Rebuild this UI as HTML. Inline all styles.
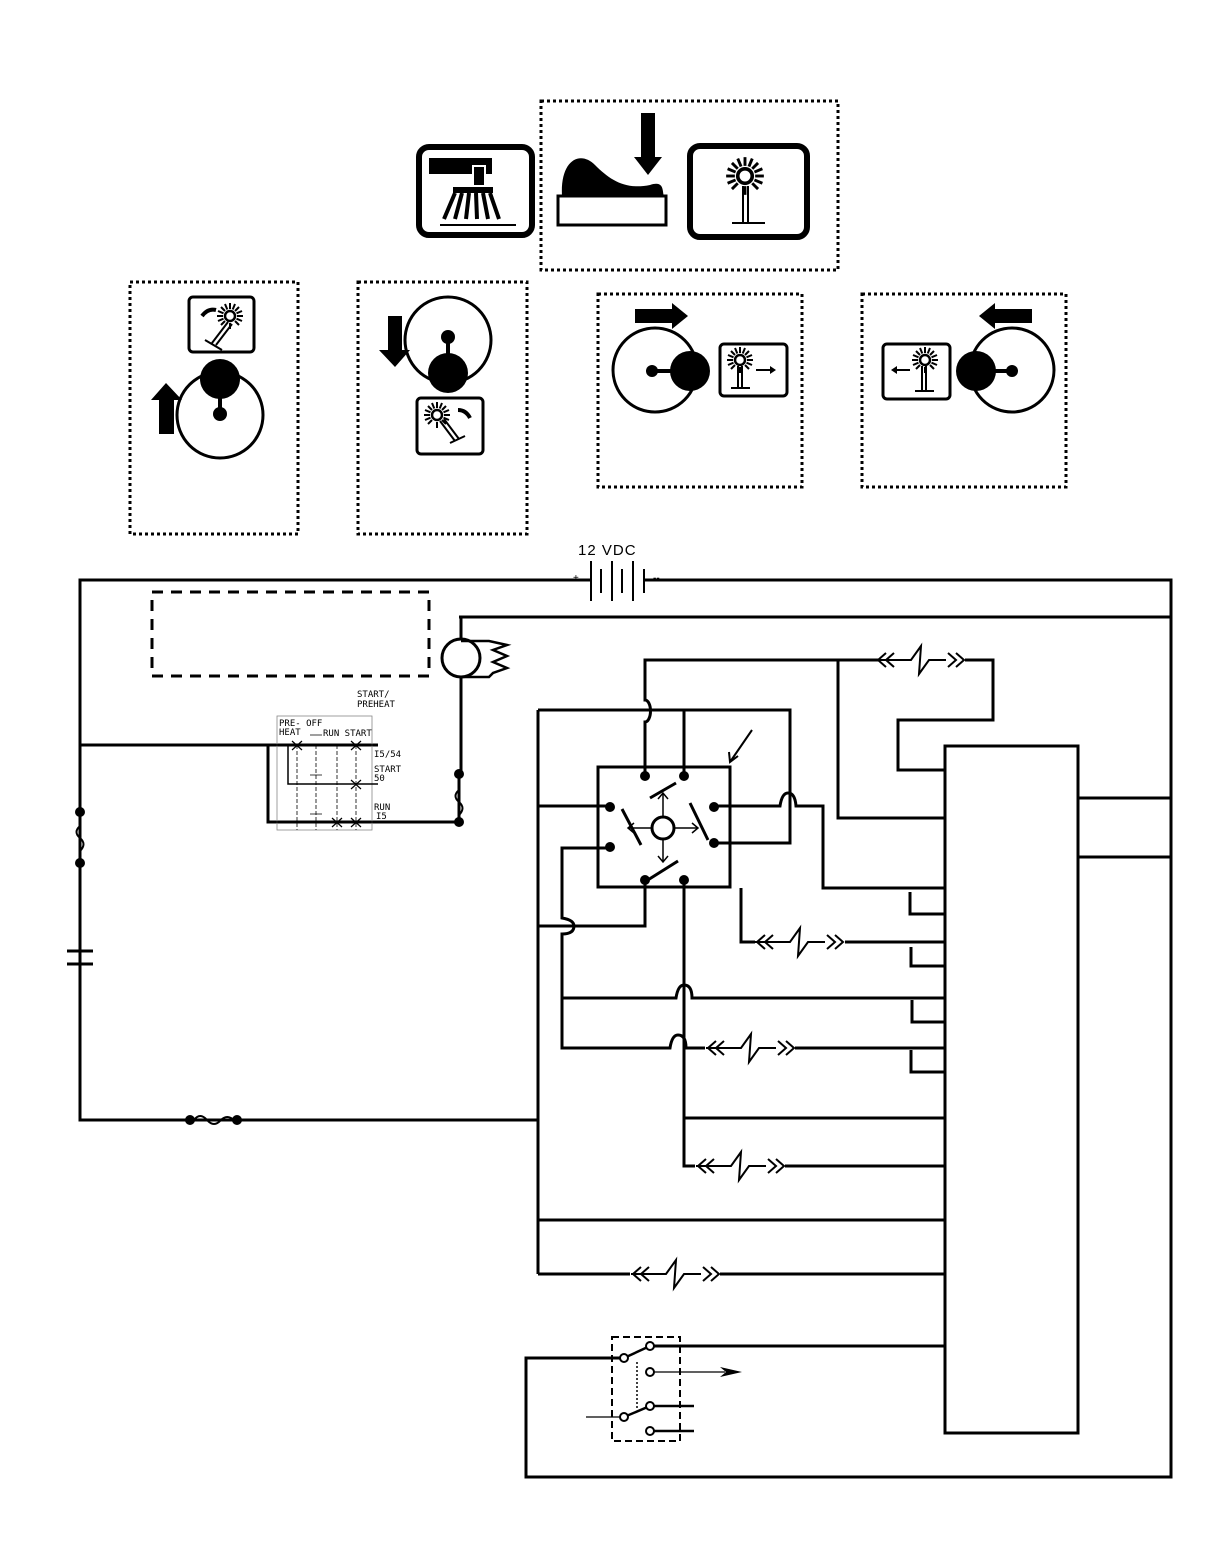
<!DOCTYPE html>
<html><head><meta charset="utf-8"><style>
body{margin:0;background:#fff}
svg{display:block}
text{font-family:"Liberation Sans",sans-serif}
.t{font-family:"DejaVu Sans Mono","Liberation Mono",monospace;font-size:9px}
</style></head><body>
<svg width="1222" height="1564" viewBox="0 0 1222 1564" xmlns="http://www.w3.org/2000/svg">
<defs>
<g id="sun">
<circle r="5" fill="none" stroke="#000" stroke-width="2.5"/>
<g stroke="#000" stroke-width="2">
<line x1="0" y1="-7" x2="0" y2="-13"/><line x1="0" y1="7" x2="0" y2="13"/><line x1="-7" y1="0" x2="-13" y2="0"/><line x1="7" y1="0" x2="13" y2="0"/>
<line x1="5" y1="5" x2="9" y2="9"/><line x1="-5" y1="-5" x2="-9" y2="-9"/><line x1="5" y1="-5" x2="9" y2="-9"/><line x1="-5" y1="5" x2="-9" y2="9"/>
<line x1="2.7" y1="-6.5" x2="5" y2="-12"/><line x1="-2.7" y1="-6.5" x2="-5" y2="-12"/><line x1="6.5" y1="-2.7" x2="12" y2="-5"/><line x1="6.5" y1="2.7" x2="12" y2="5"/><line x1="-6.5" y1="-2.7" x2="-12" y2="-5"/><line x1="-6.5" y1="2.7" x2="-12" y2="5"/>
</g></g>
<g id="fz" fill="none" stroke="#000" stroke-width="2">
<path d="M10,-7 L2,0 L10,7 M18,-7 L10,0 L18,7"/>
<path d="M0,0 L35,0 L45,-14 L43,14 L53,0 L70,0"/>
<path d="M72,-7 L80,0 L72,7 M80,-7 L88,0 L80,7"/>
</g>
</defs>

<!-- top icons -->
<rect x="541" y="101" width="297" height="169" fill="none" stroke="#000" stroke-width="3" stroke-dasharray="3,3"/>
<rect x="419" y="147" width="113" height="88" rx="10" fill="none" stroke="#000" stroke-width="6"/>
<rect x="429" y="158" width="63" height="16" fill="#000"/>
<rect x="473" y="166" width="12" height="20" fill="#000" stroke="#fff" stroke-width="2"/>
<rect x="453" y="187" width="40" height="6" fill="#000"/>
<path d="M455,193 L444,219 M462,193 L455,219 M469,193 L466,219 M476,193 L477,219 M483,193 L488,219 M490,193 L499,219" stroke="#000" stroke-width="4"/>
<line x1="440" y1="225" x2="516" y2="225" stroke="#000" stroke-width="2"/>
<path d="M562,196 C560,160 580,150 595,165 C610,180 625,190 650,185 C665,180 662,192 664,196 Z" fill="#000"/>
<rect x="558" y="196" width="108" height="29" fill="#fff" stroke="#000" stroke-width="3"/>
<rect x="641" y="113" width="14" height="45" fill="#000"/>
<path d="M634,157 L662,157 L648,175 Z" fill="#000"/>
<rect x="690" y="146" width="117" height="91" rx="10" fill="none" stroke="#000" stroke-width="6"/>
<use href="#sun" transform="translate(745,176) scale(1.45)"/>
<path d="M743,186 L743,222 M748,186 L748,222 M732,223 L765,223" stroke="#000" stroke-width="2"/>

<!-- four dotted boxes -->
<g fill="none" stroke="#000" stroke-width="3" stroke-dasharray="3,3">
<rect x="130" y="282" width="168" height="252"/>
<rect x="358" y="282" width="169" height="252"/>
<rect x="598" y="294" width="204" height="193"/>
<rect x="862" y="294" width="204" height="193"/>
</g>
<!-- box1 -->
<rect x="189" y="297" width="65" height="55" rx="4" fill="none" stroke="#000" stroke-width="3"/>
<use href="#sun" x="230" y="316"/>
<path d="M228,322 L212,343 M232,324 L216,345 M205,340 L222,350" stroke="#000" stroke-width="2"/>
<path d="M202,316 Q208,308 216,310" stroke="#000" stroke-width="4" fill="none"/>
<circle cx="220" cy="415" r="43" fill="none" stroke="#000" stroke-width="3"/>
<circle cx="220" cy="379" r="20" fill="#000"/>
<line x1="220" y1="390" x2="220" y2="412" stroke="#000" stroke-width="4"/>
<circle cx="220" cy="414" r="7" fill="#000"/>
<rect x="159" y="398" width="15" height="36" fill="#000"/>
<path d="M151,400 L182,400 L166,383 Z" fill="#000"/>
<!-- box2 -->
<circle cx="448" cy="340" r="43" fill="none" stroke="#000" stroke-width="3"/>
<circle cx="448" cy="373" r="20" fill="#000"/>
<line x1="448" y1="340" x2="448" y2="360" stroke="#000" stroke-width="4"/>
<circle cx="448" cy="337" r="7" fill="#000"/>
<rect x="388" y="316" width="14" height="35" fill="#000"/>
<path d="M379,350 L410,350 L395,367 Z" fill="#000"/>
<rect x="417" y="398" width="66" height="56" rx="4" fill="none" stroke="#000" stroke-width="3"/>
<use href="#sun" x="437" y="415"/>
<path d="M440,421 L455,441 M444,419 L459,439 M450,443 L465,436" stroke="#000" stroke-width="2"/>
<path d="M458,410 Q466,410 470,418" stroke="#000" stroke-width="4" fill="none"/>
<!-- box3 -->
<rect x="635" y="309" width="38" height="14" fill="#000"/>
<path d="M672,303 L688,316 L672,329 Z" fill="#000"/>
<circle cx="655" cy="370" r="42" fill="none" stroke="#000" stroke-width="3"/>
<circle cx="690" cy="371" r="20" fill="#000"/>
<line x1="652" y1="371" x2="675" y2="371" stroke="#000" stroke-width="4"/>
<circle cx="652" cy="371" r="6" fill="#000"/>
<rect x="720" y="344" width="67" height="52" rx="4" fill="none" stroke="#000" stroke-width="3"/>
<use href="#sun" x="740" y="360"/>
<path d="M738,366 L738,388 M742,366 L742,388 M731,388 L750,388 M756,370 L770,370" stroke="#000" stroke-width="2"/>
<path d="M770,366 L776,370 L770,374 Z" fill="#000"/>
<!-- box4 -->
<rect x="993" y="309" width="39" height="14" fill="#000"/>
<path d="M995,303 L979,316 L995,329 Z" fill="#000"/>
<circle cx="1012" cy="370" r="42" fill="none" stroke="#000" stroke-width="3"/>
<circle cx="976" cy="371" r="20" fill="#000"/>
<line x1="990" y1="371" x2="1012" y2="371" stroke="#000" stroke-width="4"/>
<circle cx="1012" cy="371" r="6" fill="#000"/>
<rect x="883" y="344" width="67" height="55" rx="4" fill="none" stroke="#000" stroke-width="3"/>
<use href="#sun" x="925" y="360"/>
<path d="M922,366 L922,390 M926,366 L926,390 M915,391 L934,391 M897,370 L910,370" stroke="#000" stroke-width="2"/>
<path d="M897,366 L891,370 L897,374 Z" fill="#000"/>

<!-- battery -->
<text x="578" y="555" font-size="15" letter-spacing="1">12 VDC</text>
<text x="573" y="581" font-size="10">+</text>
<text x="653" y="581" font-size="10">--</text>
<g stroke="#000" stroke-width="2">
<line x1="591" y1="561" x2="591" y2="601"/><line x1="601" y1="569" x2="601" y2="593"/>
<line x1="612" y1="561" x2="612" y2="601"/><line x1="622" y1="569" x2="622" y2="593"/>
<line x1="633" y1="561" x2="633" y2="601"/><line x1="644" y1="569" x2="644" y2="593"/>
</g>

<g fill="none" stroke="#000" stroke-width="3">
<path d="M591,580 L80,580 L80,1120 L538,1120"/>
<path d="M644,580 L1171,580 L1171,1477 L526,1477 L526,1358 L624,1358"/>
<path d="M459,617 L1171,617"/>
<path d="M461,617 L461,639 M461,677 L461,774"/>
<path d="M80,745 L378,745"/>
<path d="M268,745 L268,822 L459,822"/>
<path d="M459,774 L459,822"/>
<path d="M538,710 L538,1274 M538,710 L790,710 L790,843 L714,843"/>
<path d="M645,775 L645,722 A5.5,11 0 0 0 645,700 L645,660 L880,660"/>
<path d="M965,660 L993,660 L993,720 L898,720 L898,770 L945,770"/>
<path d="M838,660 L838,818 L945,818"/>
<path d="M684,775 L684,710"/>
<path d="M538,806 L608,806"/>
<path d="M714,806 L780,806 Q782,793 788,793 Q795,793 796,806 L823,806 L823,888 L945,888"/>
<path d="M610,848 L562,848 L562,918 Q574,920 574,926 Q574,934 562,934 L562,1048 L670,1048 Q672,1035 678,1035 Q686,1035 686,1048 L705,1048"/>
<path d="M645,877 L645,926 L538,926"/>
<path d="M562,998 L676,998 Q678,985 684,985 Q692,985 692,998 L945,998"/>
<path d="M795,1048 L945,1048"/>
<path d="M684,880 L684,1166 L695,1166"/>
<path d="M684,1118 L945,1118"/>
<path d="M785,1166 L945,1166"/>
<path d="M741,888 L741,942 L755,942 M845,942 L945,942"/>
<path d="M538,1220 L945,1220"/>
<path d="M538,1274 L630,1274 M720,1274 L945,1274"/>
<path d="M910,892 L910,914 L945,914 M911,947 L911,966 L945,966 M912,1000 L912,1022 L945,1022 M911,1050 L911,1072 L945,1072"/>
<path d="M1078,798 L1171,798 M1078,857 L1171,857"/>
<path d="M650,1346 L945,1346"/>
<rect x="945" y="746" width="133" height="687"/>
<rect x="598" y="767" width="132" height="120"/>
</g>
<!-- relay 4-way contents -->
<g stroke="#000" stroke-width="3" fill="none">
<circle cx="663" cy="828" r="11"/>
<path d="M650,798 L676,783 M622,809 L641,845 M690,803 L708,840 M643,883 L678,861"/>
</g>
<g stroke="#000" stroke-width="1.5" fill="none">
<path d="M663,817 L663,793 M658,799 L663,793 L668,799 M663,839 L663,862 M658,856 L663,862 L668,856 M652,828 L628,828 M634,823 L628,828 L634,833 M674,828 L698,828 M692,823 L698,828 L692,833"/>
<path d="M752,730 L730,762 M729,752 L730,762 L738,756" stroke-width="2"/>
</g>
<g fill="#000">
<circle cx="645" cy="776" r="5"/><circle cx="684" cy="776" r="5"/>
<circle cx="610" cy="807" r="5"/><circle cx="714" cy="807" r="5"/>
<circle cx="610" cy="847" r="5"/><circle cx="714" cy="843" r="5"/>
<circle cx="645" cy="880" r="5"/><circle cx="684" cy="880" r="5"/>
<circle cx="459" cy="774" r="5"/><circle cx="459" cy="822" r="5"/>
<circle cx="80" cy="812" r="5"/><circle cx="80" cy="863" r="5"/>
<circle cx="190" cy="1120" r="5"/><circle cx="237" cy="1120" r="5"/>
</g>
<!-- fuses in lines -->
<g fill="none" stroke="#000" stroke-width="2">
<path d="M459,778 L459,790 Q452,796 459,802 Q466,808 459,815 L459,818"/>
<path d="M80,816 L80,826 Q73,832 80,838 Q87,844 80,851 L80,860"/>
<path d="M194,1120 Q200,1112 207,1120 Q214,1128 221,1120 Q227,1114 234,1120"/>
</g>
<rect x="74" y="868" width="12" height="80" fill="#fff"/>
<g stroke="#000" stroke-width="3"><line x1="80" y1="868" x2="80" y2="951"/><line x1="80" y1="964" x2="80" y2="1120"/><line x1="67" y1="951" x2="93" y2="951"/><line x1="67" y1="964" x2="93" y2="964"/></g>
<use href="#fz" x="876" y="660"/>
<use href="#fz" x="755" y="942"/>
<use href="#fz" x="706" y="1048"/>
<use href="#fz" x="696" y="1166"/>
<use href="#fz" x="631" y="1274"/>
<!-- motor -->
<circle cx="461" cy="658" r="19" fill="none" stroke="#000" stroke-width="3"/>
<path d="M461,641 L489,641 L507,645 L493,650 L507,656 L493,662 L507,668 L493,673 L489,677 L461,677" fill="none" stroke="#000" stroke-width="2.5"/>
<rect x="152" y="592" width="277" height="84" fill="none" stroke="#000" stroke-width="3" stroke-dasharray="11,8"/>
<!-- ignition switch -->
<g stroke="#000" fill="none">
<rect x="277" y="716" width="95" height="114" stroke-width="0.8" stroke="#888"/>
<path d="M268,745 L378,745 M288,745 L288,784 L378,784 M268,822 L378,822" stroke-width="1.5"/>
<path d="M297,745 L297,830 M316,745 L316,830 M337,745 L337,830 M356,745 L356,830" stroke-width="0.8" stroke-dasharray="4,2"/>
<path d="M292,741 L302,750 M302,741 L292,750 M351,741 L361,750 M361,741 L351,750 M351,780 L361,789 M361,780 L351,789 M332,818 L342,827 M342,818 L332,827 M351,818 L361,827 M361,818 L351,827" stroke-width="1.2"/>
<path d="M310,735 L322,735 M310,775 L322,775 M310,814 L322,814" stroke-width="0.8"/>
</g>
<text class="t" x="357" y="697">START/</text>
<text class="t" x="357" y="707">PREHEAT</text>
<text class="t" x="279" y="726">PRE- OFF</text>
<text class="t" x="279" y="735">HEAT</text>
<text class="t" x="323" y="736">RUN START</text>
<text class="t" x="374" y="757">I5/54</text>
<text class="t" x="374" y="772">START</text>
<text class="t" x="374" y="781">50</text>
<text class="t" x="374" y="810">RUN</text>
<text class="t" x="376" y="819">I5</text>
<!-- bottom switch -->
<rect x="612" y="1337" width="68" height="104" fill="none" stroke="#000" stroke-width="2" stroke-dasharray="7,4"/>
<g stroke="#000" fill="none">
<path d="M624,1358 L650,1346 M624,1417 L650,1406 L694,1406 M650,1431 L694,1431" stroke-width="2.5"/>
<path d="M586,1417 L620,1417 M654,1372 L725,1372" stroke-width="1.2"/>
<path d="M637,1362 L637,1410" stroke-width="1.5" stroke-dasharray="2,2"/>
<circle cx="624" cy="1358" r="4" fill="#fff" stroke-width="2"/><circle cx="650" cy="1346" r="4" fill="#fff" stroke-width="2"/>
<circle cx="650" cy="1372" r="4" fill="#fff" stroke-width="2"/><circle cx="650" cy="1406" r="4" fill="#fff" stroke-width="2"/>
<circle cx="624" cy="1417" r="4" fill="#fff" stroke-width="2"/><circle cx="650" cy="1431" r="4" fill="#fff" stroke-width="2"/>
</g>
<path d="M720,1367 L742,1372 L720,1377 L726,1372 Z" fill="#000"/>
</svg>
</body></html>
